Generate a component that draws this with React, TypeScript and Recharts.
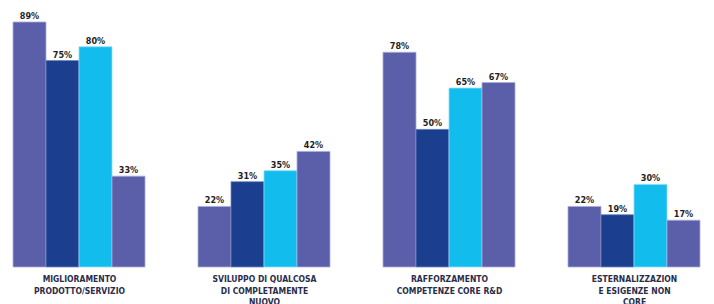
import React from 'react';
import { BarChart, Bar, XAxis, YAxis, LabelList } from 'recharts';

const categories = ['miglioramento', 'sviluppo', 'rafforzamento', 'esternalizzazione'];
const categoryLines = [
  ['MIGLIORAMENTO', 'PRODOTTO/SERVIZIO'],
  ['SVILUPPO DI QUALCOSA', 'DI COMPLETAMENTE', 'NUOVO'],
  ['RAFFORZAMENTO', 'COMPETENZE CORE R&D'],
  ['ESTERNALIZZAZION', 'E ESIGENZE NON', 'CORE'],
];
const serie1 = [89, 22, 78, 22];
const serie2 = [75, 31, 50, 19];
const serie3 = [80, 35, 65, 30];
const serie4 = [33, 42, 67, 17];

const data = categories.map((c, i) => ({
  name: c,
  s1: serie1[i],
  s2: serie2[i],
  s3: serie3[i],
  s4: serie4[i],
}));

const FONT = '"DejaVu Sans Condensed", "DejaVu Sans", sans-serif';

const CategoryTick = (props: any) => {
  const { x, y, index } = props;
  const lines = categoryLines[index] || [];
  return (
    <text x={x} y={y} textAnchor="middle" fontFamily={FONT} fontWeight="bold" fontSize={8.5} fill="#2a2c4a">
      {lines.map((l, i) => (
        <tspan key={i} x={x} y={y + 7 + i * 11.5}>
          {l}
        </tspan>
      ))}
    </text>
  );
};

const labelProps = {
  position: 'top' as const,
  offset: 3,
  fontSize: 9,
  fontWeight: 'bold',
  fontFamily: FONT,
  fill: '#1e1e24',
  formatter: (v: any) => `${v}%`,
};

export default function App() {
  return (
    <div style={{ position: 'fixed', left: 0, top: 0, width: 714, height: 304, overflow: 'hidden', background: '#fff' }}>
      <div style={{ marginLeft: -13 }}>
        <BarChart width={740} height={304} data={data} margin={{ top: 0, right: 0, left: 0, bottom: 0 }} barGap={0} barCategoryGap={26}>
          <XAxis dataKey="name" axisLine={false} tickLine={false} height={37} tick={<CategoryTick />} interval={0} />
          <YAxis hide domain={[0, 97]} />
          <Bar dataKey="s1" fill="#5b5ea8" stroke="#a9abdb" strokeWidth={0.8} isAnimationActive={false}>
            <LabelList dataKey="s1" {...labelProps} />
          </Bar>
          <Bar dataKey="s2" fill="#1b3f8e" stroke="#6f86c0" strokeWidth={0.8} isAnimationActive={false}>
            <LabelList dataKey="s2" {...labelProps} />
          </Bar>
          <Bar dataKey="s3" fill="#12bdee" stroke="#8ddcf6" strokeWidth={0.8} isAnimationActive={false}>
            <LabelList dataKey="s3" {...labelProps} />
          </Bar>
          <Bar dataKey="s4" fill="#5b5ea8" stroke="#a9abdb" strokeWidth={0.8} isAnimationActive={false}>
            <LabelList dataKey="s4" {...labelProps} />
          </Bar>
        </BarChart>
      </div>
    </div>
  );
}
